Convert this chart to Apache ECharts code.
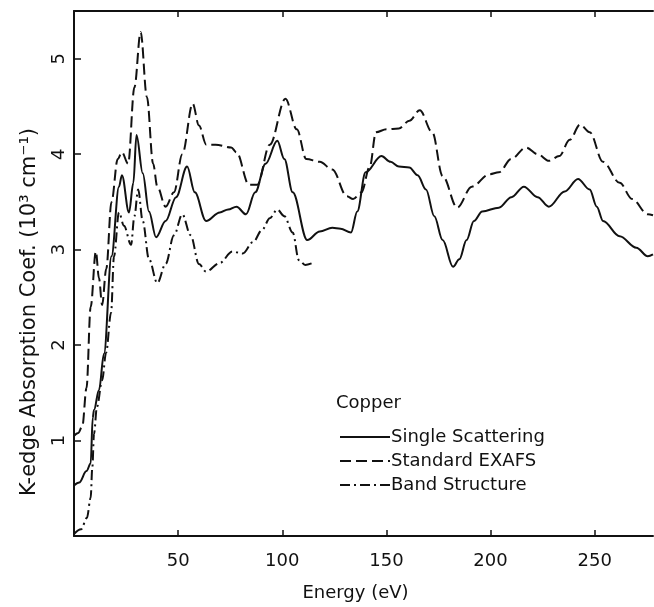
<!DOCTYPE html>
<html>
<head>
<meta charset="utf-8">
<script src="https://cdn.jsdelivr.net/npm/echarts@6/dist/echarts.min.js"></script>
<style>
html,body{margin:0;padding:0;background:#fff;}
#chart{width:654px;height:607px;}
</style>
</head>
<body>
<div id="chart"></div>
<script>
// Single Scattering (solid)
const ssEnergy = [0, 2.5, 6, 8, 9, 9.6, 12, 14.4, 18, 21.6, 23, 26.4, 28.5, 30, 33, 36, 39.4, 44, 49, 54.3, 58, 63.4, 70, 74, 78, 82.6, 87, 92, 97.6, 101, 105, 112, 118, 124, 128, 133, 136, 140, 147.6, 152, 156, 161, 165, 169, 173, 177, 182, 185, 188.5, 192, 196, 204, 210, 216, 222.6, 228, 235.6, 242, 247.6, 251, 254, 262, 270, 275.5, 278];
const ssValues = [0.53, 0.56, 0.68, 0.76, 1.24, 1.32, 1.53, 1.91, 2.93, 3.66, 3.78, 3.39, 3.7, 4.2, 3.8, 3.4, 3.13, 3.3, 3.55, 3.87, 3.6, 3.3, 3.39, 3.42, 3.45, 3.37, 3.6, 3.9, 4.14, 3.95, 3.6, 3.1, 3.19, 3.23, 3.22, 3.18, 3.4, 3.81, 3.98, 3.92, 3.87, 3.86, 3.78, 3.63, 3.35, 3.1, 2.82, 2.9, 3.1, 3.3, 3.4, 3.44, 3.55, 3.66, 3.55, 3.45, 3.61, 3.74, 3.63, 3.45, 3.3, 3.14, 3.02, 2.93, 2.95];

// Standard EXAFS (dashed)
const seEnergy = [0, 2, 4, 6, 8, 10.5, 12, 13.5, 15.5, 18, 21, 23, 26, 29, 32, 35, 38, 40, 44, 48, 52, 57, 60, 63.5, 68, 75.5, 78, 84, 88, 94, 101.5, 107, 111.5, 118, 124, 131, 134, 138, 142, 145, 150, 156, 161, 166, 172, 177, 184, 191, 199.5, 204, 210, 217, 222.6, 228, 233, 238, 243, 247.6, 254, 262, 268, 275.5, 278];
const seValues = [1.05, 1.08, 1.15, 1.55, 2.4, 2.98, 2.7, 2.42, 2.8, 3.5, 3.95, 4.02, 3.9, 4.7, 5.28, 4.6, 3.9, 3.66, 3.45, 3.6, 4.0, 4.53, 4.3, 4.1, 4.1, 4.07, 4.02, 3.68, 3.68, 4.1, 4.58, 4.26, 3.95, 3.92, 3.84, 3.56, 3.53, 3.6, 3.87, 4.23, 4.26, 4.27, 4.35, 4.46, 4.23, 3.77, 3.44, 3.66, 3.79, 3.81, 3.95, 4.07, 4.0, 3.93, 3.98, 4.15, 4.31, 4.23, 3.92, 3.7, 3.53, 3.37, 3.36];

// Band Structure (dash-dot)
const bsEnergy = [0, 3.4, 6.2, 8, 8.8, 9.6, 11, 13.5, 15.4, 17.8, 19.2, 21.6, 24, 27.4, 29, 30.8, 33, 36, 40, 44, 48, 52, 56, 60, 63.4, 70, 76, 81, 86, 90.4, 94, 97.6, 101, 105, 108, 111, 114.6];
const bsValues = [0.02, 0.07, 0.19, 0.4, 0.72, 1.07, 1.35, 1.63, 1.92, 2.34, 2.93, 3.39, 3.25, 3.05, 3.35, 3.63, 3.3, 2.9, 2.65, 2.85, 3.15, 3.37, 3.15, 2.85, 2.77, 2.86, 2.98, 2.96, 3.08, 3.21, 3.33, 3.42, 3.35, 3.18, 2.89, 2.84, 2.86];

const xTicks = [50, 100, 150, 200, 250];
const yTicks = [1, 2, 3, 4, 5];
const seriesNames = ['Single Scattering', 'Standard EXAFS', 'Band Structure'];
const legendTitle = 'Copper';
const xName = 'Energy (eV)';
const yName = 'K-edge Absorption Coef. (10³ cm⁻¹)';

const pair = (xs, ys) => xs.map((x, i) => [x, ys[i]]);
const FONT = 'DejaVu Sans';
const INK = '#111';

const chart = echarts.init(document.getElementById('chart'), null, {renderer: 'canvas'});
const baseSeries = {
  type: 'line', smooth: 0.35, smoothMonotone: 'x', symbol: 'none', showSymbol: false,
  color: INK, xAxisIndex: 0, yAxisIndex: 0, animation: false
};
chart.setOption({
  animation: false,
  backgroundColor: '#fff',
  grid: {left: 74, right: 1, top: 11, bottom: 70, containLabel: false},
  legend: {
    orient: 'vertical', left: 334, top: 423, itemWidth: 50, itemHeight: 14, itemGap: 6,
    itemStyle: {opacity: 0},
    textStyle: {fontFamily: FONT, fontSize: 18, color: INK, padding: [0, 0, 0, -4]},
    data: seriesNames.map(n => ({name: n}))
  },
  graphic: [{
    type: 'text', left: 336, top: 394,
    style: {text: legendTitle, font: '18px "DejaVu Sans"', fill: INK}
  }, {
    type: 'text', x: 30, y: 312, rotation: Math.PI / 2,
    style: {text: yName, font: '21px "DejaVu Sans"', fill: INK, align: 'center', verticalAlign: 'middle'}
  }],
  xAxis: [{
    type: 'value', min: 0, max: 278, interval: 50, position: 'bottom',
    name: xName, nameLocation: 'middle', nameGap: 48,
    nameTextStyle: {fontFamily: FONT, fontSize: 18, color: INK, padding: [0, 16, 0, 0]},
    axisLine: {show: true, onZero: false, lineStyle: {color: INK, width: 2}},
    axisTick: {show: true, inside: true, length: 6, lineStyle: {color: INK, width: 1.5}, customValues: xTicks},
    axisLabel: {show: true, customValues: xTicks, margin: 16, fontFamily: FONT, fontSize: 18, color: INK},
    splitLine: {show: false}
  }, {
    type: 'value', min: 0, max: 278, interval: 50, position: 'top',
    axisLine: {show: true, onZero: false, lineStyle: {color: INK, width: 2}},
    axisTick: {show: true, inside: true, length: 6, lineStyle: {color: INK, width: 1.5}, customValues: xTicks},
    axisLabel: {show: false},
    splitLine: {show: false}
  }],
  yAxis: [{
    type: 'value', min: 0, max: 5.5, interval: 1,
    axisLine: {show: true, onZero: false, lineStyle: {color: INK, width: 2}},
    axisTick: {show: true, inside: true, length: 7, lineStyle: {color: INK, width: 1.5}, customValues: yTicks},
    axisLabel: {show: true, customValues: yTicks, rotate: 90, margin: 6, fontFamily: FONT, fontSize: 18, color: INK},
    splitLine: {show: false}
  }],
  series: [
    Object.assign({}, baseSeries, {name: seriesNames[0], data: pair(ssEnergy, ssValues),
      lineStyle: {color: INK, width: 2, type: 'solid'}}),
    Object.assign({}, baseSeries, {name: seriesNames[1], data: pair(seEnergy, seValues),
      lineStyle: {color: INK, width: 2, type: [11, 5]}}),
    Object.assign({}, baseSeries, {name: seriesNames[2], data: pair(bsEnergy, bsValues),
      lineStyle: {color: INK, width: 2, type: [10, 4, 2, 4]}})
  ]
});
</script>
</body>
</html>
